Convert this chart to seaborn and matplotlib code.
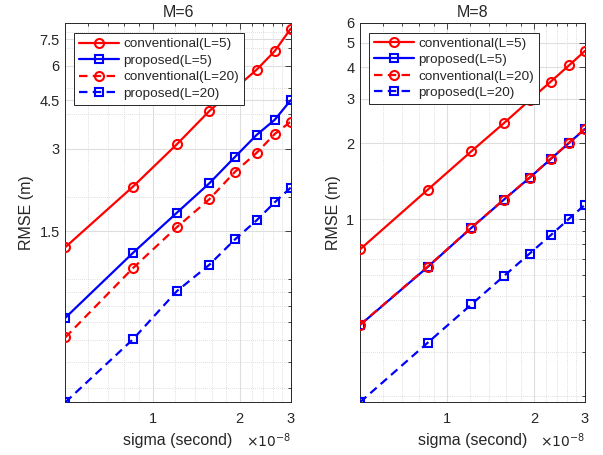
import numpy as np
import matplotlib
matplotlib.use("Agg")
import matplotlib.pyplot as plt
import seaborn as sns
from matplotlib.ticker import FixedLocator, NullFormatter

# sigma values, in units of 1e-8 second
sigma = [0.5, 0.857, 1.214, 1.571, 1.929, 2.286, 2.643, 3.0]

# M=6 panel
m6_conv_l5 = [1.31, 2.18, 3.11, 4.11, 4.97, 5.81, 6.80, 8.21]
m6_prop_l5 = [0.724, 1.25, 1.75, 2.24, 2.80, 3.36, 3.82, 4.50]
m6_conv_l20 = [0.614, 1.10, 1.55, 1.96, 2.47, 2.89, 3.39, 3.76]
m6_prop_l20 = [0.356, 0.605, 0.906, 1.13, 1.40, 1.64, 1.91, 2.16]

# M=8 panel
m8_conv_l5 = [0.761, 1.31, 1.86, 2.40, 2.96, 3.51, 4.07, 4.64]
m8_prop_l5 = [0.382, 0.648, 0.926, 1.196, 1.46, 1.735, 2.007, 2.28]
m8_conv_l20 = [0.383, 0.650, 0.928, 1.198, 1.462, 1.738, 2.010, 2.285]
m8_prop_l20 = [0.189, 0.325, 0.461, 0.596, 0.732, 0.867, 1.006, 1.143]

labels = ["conventional(L=5)", "proposed(L=5)", "conventional(L=20)", "proposed(L=20)"]
styles = [("r", "-", "o"), ("b", "-", "s"), ("r", "--", "o"), ("b", "--", "s")]

x_minor = [0.6, 0.7, 0.8, 0.9, 1.2, 1.4, 1.6, 1.8, 2.2, 2.4, 2.6, 2.8]

sns.set_style("white")
plt.rcParams["font.family"] = ["Liberation Sans", "DejaVu Sans"]

fig = plt.figure(figsize=(6.03, 4.55), dpi=100)
ax1 = fig.add_axes([0.1083, 0.1158, 0.3738, 0.8343])
ax2 = fig.add_axes([0.597, 0.1158, 0.3731, 0.8343])

panels = [
    (ax1, "M=6", [m6_conv_l5, m6_prop_l5, m6_conv_l20, m6_prop_l20],
     [1.5, 3, 4.5, 6, 7.5], ["1.5", "3", "4.5", "6", "7.5"],
     [0.4, 0.5, 0.6, 0.7, 0.8, 0.9, 1, 2, 4, 5, 7, 8], (0.356, 8.63), (0.0386, 0.972)),
    (ax2, "M=8", [m8_conv_l5, m8_prop_l5, m8_conv_l20, m8_prop_l20],
     [1, 2, 3, 4, 5, 6], ["1", "2", "3", "4", "5", "6"],
     [0.2, 0.3, 0.4, 0.5, 0.6, 0.7, 0.8, 0.9], (0.189, 6.0), (0.041, 0.974)),
]

txt = "#262626"
for ax, title, series, yt, ytl, ymin, ylim, lpos in panels:
    for vals, lab, (c, ls, mk) in zip(series, labels, styles):
        sns.lineplot(x=sigma, y=vals, ax=ax, color=c, linestyle=ls, marker=mk,
                     markersize=6.5 if mk == "o" else 5.5, markerfacecolor="none",
                     markeredgecolor=c, markeredgewidth=1.5, linewidth=1.6,
                     dashes=False, label=lab, zorder=3)
    for ln in ax.get_lines():
        if ln.get_linestyle() == "--":
            ln.set_dashes([3.8, 2.4])
    ax.set_xscale("log")
    ax.set_yscale("log")
    ax.set_xlim(0.5, 3.0)
    ax.set_ylim(*ylim)
    ax.xaxis.set_major_locator(FixedLocator([1, 2, 3]))
    ax.set_xticklabels(["1", "2", "3"])
    ax.xaxis.set_minor_locator(FixedLocator(x_minor))
    ax.xaxis.set_minor_formatter(NullFormatter())
    ax.yaxis.set_major_locator(FixedLocator(yt))
    ax.set_yticklabels(ytl)
    ax.yaxis.set_minor_locator(FixedLocator(ymin))
    ax.yaxis.set_minor_formatter(NullFormatter())
    ax.grid(True, which="major", color="#dedede", linewidth=0.8, linestyle="-")
    ax.grid(True, which="minor", color="#d4d4d4", linewidth=0.6, linestyle=(0, (1, 1.5)))
    ax.set_axisbelow(True)
    ax.tick_params(which="both", direction="in", top=True, right=True,
                   colors=txt, labelsize=10.5, width=0.6)
    ax.tick_params(which="major", length=4)
    ax.tick_params(which="minor", length=2.2)
    ax.tick_params(axis="x", which="major", pad=7)
    ax.tick_params(axis="y", which="major", pad=4)
    for sp in ax.spines.values():
        sp.set_color(txt)
        sp.set_linewidth(0.7)
    ax.set_title(title, fontsize=11.5, color=txt, pad=4)
    ax.set_xlabel("sigma (second)", fontsize=11.5, color=txt, labelpad=5)
    ax.set_ylabel("RMSE (m)", fontsize=11.5, color=txt, labelpad=4)
    ax.text(1.0, -0.1, r"$\times10^{-8}$", transform=ax.transAxes, ha="right",
            va="center", fontsize=10, color=txt)
    leg = ax.legend(loc="upper left", bbox_to_anchor=lpos, borderaxespad=0,
                    fontsize=9.7, handlelength=3.0, handletextpad=0.3,
                    labelspacing=0.3, borderpad=0.35, fancybox=False,
                    framealpha=1, edgecolor=txt)
    leg.get_frame().set_linewidth(0.7)
    for t in leg.get_texts():
        t.set_color(txt)

fig.savefig("out.png", dpi=100)
